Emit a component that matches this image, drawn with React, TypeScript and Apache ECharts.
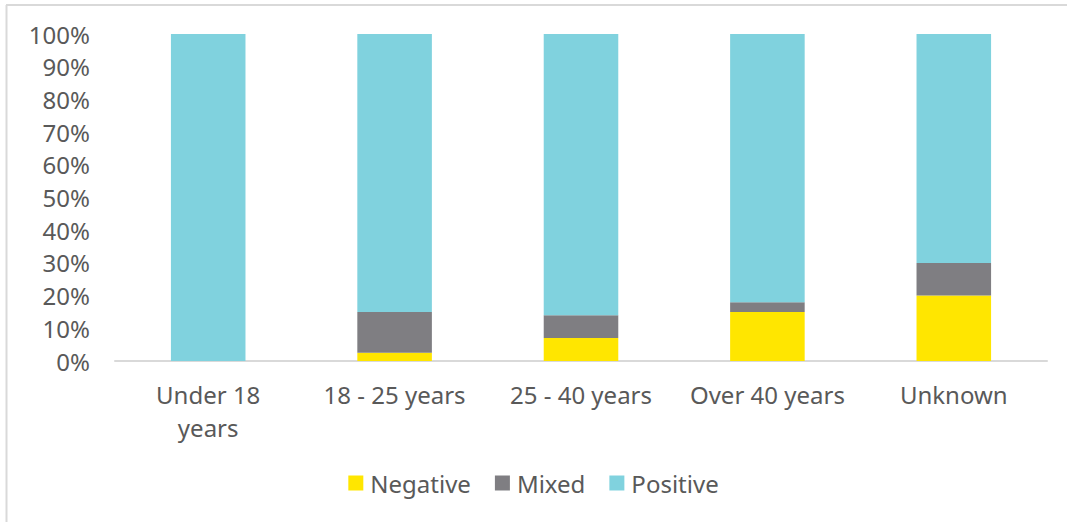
import React, { useEffect, useRef } from "react";
import * as echarts from "echarts";

const categories = ["Under 18\nyears", "18 - 25 years", "25 - 40 years", "Over 40 years", "Unknown"];
const negative = [0, 2.5, 7, 15, 20];
const mixed = [0, 12.5, 7, 3, 10];
const positive = [100, 85, 86, 82, 70];
const seriesNames = ["Negative", "Mixed", "Positive"];
const colors = ["#FFE600", "#7F7E82", "#80D2DE"];

export default function App() {
  const ref = useRef<HTMLDivElement>(null);
  useEffect(() => {
    if (!ref.current) return;
    const chart = echarts.init(ref.current, null, { renderer: "svg" });
    const font = "'Noto Sans', sans-serif";
    const data = [negative, mixed, positive];
    chart.setOption({
      animation: false,
      textStyle: { fontFamily: font },
      graphic: [
        { type: "line", shape: { x1: 6.5, y1: 5, x2: 6.5, y2: 522 }, style: { stroke: "#d9d9d9", lineWidth: 2 } },
        { type: "line", shape: { x1: 6, y1: 5, x2: 1067, y2: 5 }, style: { stroke: "#d9d9d9", lineWidth: 2 } },
      ],
      grid: { left: 115, right: 20, top: 34, bottom: 161, containLabel: false },
      legend: {
        data: seriesNames,
        bottom: 22,
        left: "center",
        itemWidth: 15,
        itemHeight: 15,
        itemGap: 24,
        icon: "rect",
        textStyle: { fontFamily: font, fontSize: 24, color: "#595959", padding: [0, 0, 0, 2] },
      },
      xAxis: {
        type: "category",
        data: categories,
        axisLine: { lineStyle: { color: "#d9d9d9", width: 2 } },
        axisTick: { show: false },
        axisLabel: { fontFamily: font, fontSize: 24, color: "#595959", margin: 17, lineHeight: 33, interval: 0 },
      },
      yAxis: {
        type: "value",
        min: 0,
        max: 100,
        interval: 10,
        axisLine: { show: false },
        axisTick: { show: false },
        splitLine: { show: false },
        axisLabel: { fontFamily: font, fontSize: 24, color: "#595959", margin: 25, formatter: "{value}%" },
      },
      series: seriesNames.map((name, i) => ({
        name,
        type: "bar",
        stack: "total",
        barWidth: "40%",
        data: data[i],
        itemStyle: { color: colors[i] },
      })),
    });
    return () => chart.dispose();
  }, []);
  return <div ref={ref} style={{ width: 1067, height: 522, position: "absolute", left: 0, top: 0 }} />;
}
